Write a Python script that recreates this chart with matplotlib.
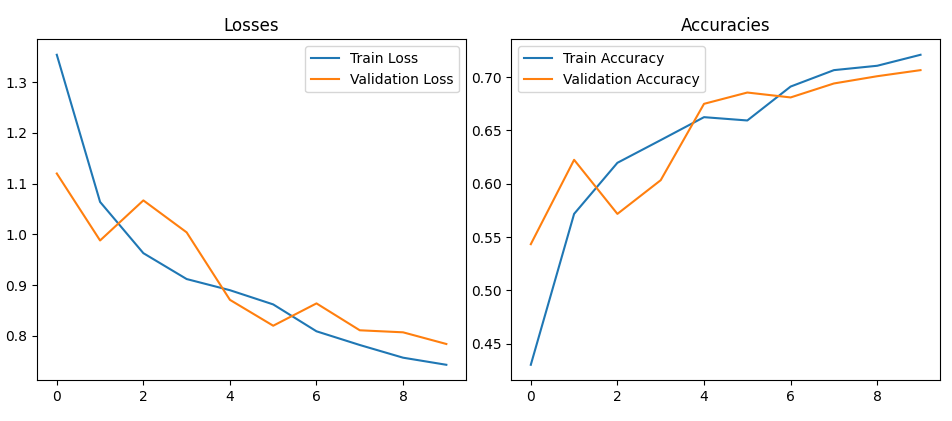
import matplotlib
matplotlib.use('Agg')
import matplotlib.pyplot as plt

epochs = list(range(10))

train_loss = [1.354, 1.064, 0.963, 0.912, 0.890, 0.862, 0.809, 0.782, 0.757, 0.743]
val_loss = [1.120, 0.988, 1.067, 1.004, 0.871, 0.820, 0.864, 0.811, 0.807, 0.784]

train_acc = [0.4303, 0.5718, 0.6197, 0.6410, 0.6625, 0.6594, 0.6912, 0.7066, 0.7107, 0.7210]
val_acc = [0.5434, 0.6225, 0.5718, 0.6034, 0.6750, 0.6856, 0.6810, 0.6941, 0.7009, 0.7066]

fig = plt.figure(figsize=(9.52, 4.21), dpi=100)
ax1 = fig.add_axes([0.0392, 0.0967, 0.4501, 0.81])
ax2 = fig.add_axes([0.5371, 0.0967, 0.4503, 0.81])

ax1.plot(epochs, train_loss, label='Train Loss')
ax1.plot(epochs, val_loss, label='Validation Loss')
ax1.set_title('Losses')
ax1.legend()

ax2.plot(epochs, train_acc, label='Train Accuracy')
ax2.plot(epochs, val_acc, label='Validation Accuracy')
ax2.set_title('Accuracies')
ax2.legend()

fig.savefig('out.png', dpi=100)
